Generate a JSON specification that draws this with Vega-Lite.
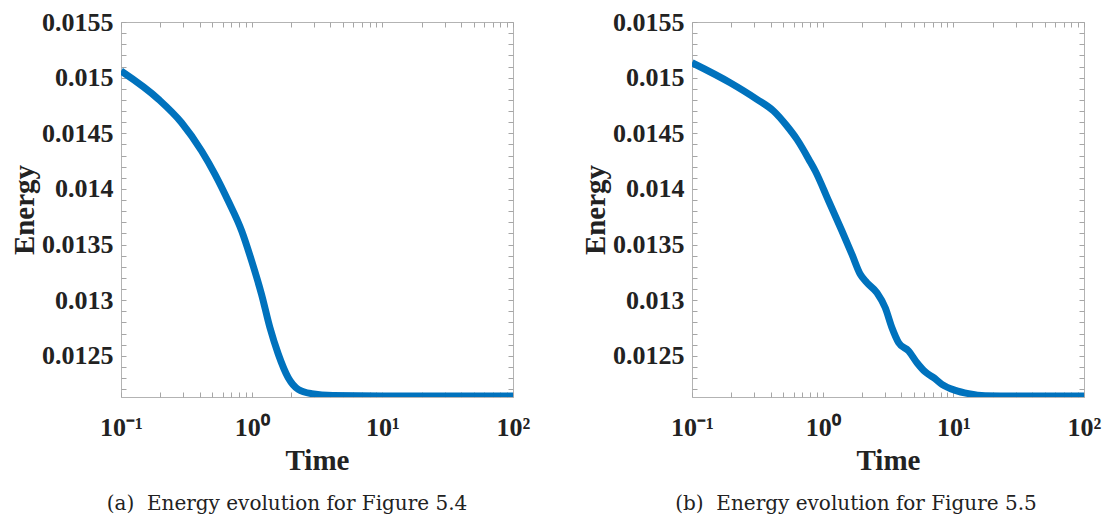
{
  "$schema": "https://vega.github.io/schema/vega-lite/v6.json",
  "background": "white",
  "padding": {"left": 10, "top": 8, "right": 5, "bottom": 5},
  "spacing": 50,
  "datasets": {
    "energy": [
      {"panel": "a", "t": 0.1, "E": 0.01506},
      {"panel": "a", "t": 0.194, "E": 0.014805},
      {"panel": "a", "t": 0.291, "E": 0.014595},
      {"panel": "a", "t": 0.414, "E": 0.014341},
      {"panel": "a", "t": 0.524, "E": 0.014131},
      {"panel": "a", "t": 0.662, "E": 0.013891},
      {"panel": "a", "t": 0.839, "E": 0.013622},
      {"panel": "a", "t": 1.0, "E": 0.013352},
      {"panel": "a", "t": 1.19, "E": 0.013053},
      {"panel": "a", "t": 1.38, "E": 0.012753},
      {"panel": "a", "t": 1.6, "E": 0.012514},
      {"panel": "a", "t": 1.905, "E": 0.012303},
      {"panel": "a", "t": 2.27, "E": 0.012199},
      {"panel": "a", "t": 2.88, "E": 0.01216},
      {"panel": "a", "t": 4.19, "E": 0.012143},
      {"panel": "a", "t": 10, "E": 0.012139},
      {"panel": "a", "t": 100, "E": 0.012139},
      {"panel": "b", "t": 0.1, "E": 0.015134},
      {"panel": "b", "t": 0.196, "E": 0.014954},
      {"panel": "b", "t": 0.314, "E": 0.014805},
      {"panel": "b", "t": 0.421, "E": 0.0147},
      {"panel": "b", "t": 0.533, "E": 0.014565},
      {"panel": "b", "t": 0.636, "E": 0.014445},
      {"panel": "b", "t": 0.804, "E": 0.014242},
      {"panel": "b", "t": 0.878, "E": 0.014161},
      {"panel": "b", "t": 1.111, "E": 0.013891},
      {"panel": "b", "t": 1.405, "E": 0.013622},
      {"panel": "b", "t": 1.676, "E": 0.013412},
      {"panel": "b", "t": 1.94, "E": 0.013233},
      {"panel": "b", "t": 2.183, "E": 0.013157},
      {"panel": "b", "t": 2.603, "E": 0.013067},
      {"panel": "b", "t": 3.013, "E": 0.012932},
      {"panel": "b", "t": 3.39, "E": 0.012753},
      {"panel": "b", "t": 3.815, "E": 0.012618},
      {"panel": "b", "t": 4.55, "E": 0.012543},
      {"panel": "b", "t": 5.27, "E": 0.012438},
      {"panel": "b", "t": 6.1, "E": 0.012355},
      {"panel": "b", "t": 7.07, "E": 0.012304},
      {"panel": "b", "t": 8.18, "E": 0.012244},
      {"panel": "b", "t": 10.34, "E": 0.01219},
      {"panel": "b", "t": 13.1, "E": 0.01216},
      {"panel": "b", "t": 17.5, "E": 0.012142},
      {"panel": "b", "t": 30, "E": 0.012139},
      {"panel": "b", "t": 100, "E": 0.012139}
    ]
  },
  "data": {"name": "energy"},
  "hconcat": [
    {
      "width": 392,
      "height": 375,
      "transform": [{"filter": "datum.panel === 'a'"}],
      "title": {"text": "(a)\u00a0 Energy evolution for Figure 5.4", "orient": "bottom", "anchor": "middle", "font": "DejaVu Serif", "fontSize": 20, "fontWeight": "normal", "color": "#222222", "offset": 19, "dx": -30},
      "layer": [
        {
          "mark": {"type": "line", "color": "#0072BD", "strokeWidth": 7, "interpolate": "monotone", "clip": true},
          "encoding": {
            "x": {"field": "t", "type": "quantitative", "scale": {"type": "log", "domain": [0.1, 100], "nice": false}, "axis": {"orient": "bottom", "title": "Time", "values": [0.1,0.2,0.3,0.4,0.5,0.6,0.7,0.8,0.9,1,2,3,4,5,6,7,8,9,10,20,30,40,50,60,70,80,90,100], "labelExpr": "datum.value == 0.1 ? '10\u207b\u00b9' : datum.value == 1 ? '10\u2070' : datum.value == 10 ? '10\u00b9' : datum.value == 100 ? '10\u00b2' : ''"}},
            "y": {"field": "E", "type": "quantitative", "scale": {"domain": [0.01213, 0.0155], "nice": false, "zero": false}, "axis": {"orient": "left", "title": "Energy", "values": [0.0122,0.0123,0.0124,0.0125,0.0126,0.0127,0.0128,0.0129,0.013,0.0131,0.0132,0.0133,0.0134,0.0135,0.0136,0.0137,0.0138,0.0139,0.014,0.0141,0.0142,0.0143,0.0144,0.0145,0.0146,0.0147,0.0148,0.0149,0.015,0.0151,0.0152,0.0153,0.0154,0.0155], "labelExpr": "round(datum.value*10000) % 5 === 0 ? format(datum.value, '~g') : ''"}}
          }
        },
        {
          "mark": {"type": "line", "opacity": 0},
          "encoding": {
            "x": {"field": "t", "type": "quantitative", "scale": {"type": "log", "domain": [0.1, 100], "nice": false}, "axis": {"orient": "top", "title": null, "labels": false, "values": [0.1,0.2,0.3,0.4,0.5,0.6,0.7,0.8,0.9,1,2,3,4,5,6,7,8,9,10,20,30,40,50,60,70,80,90,100]}},
            "y": {"field": "E", "type": "quantitative", "scale": {"domain": [0.01213, 0.0155], "nice": false, "zero": false}, "axis": {"orient": "right", "title": null, "labels": false, "values": [0.0122,0.0123,0.0124,0.0125,0.0126,0.0127,0.0128,0.0129,0.013,0.0131,0.0132,0.0133,0.0134,0.0135,0.0136,0.0137,0.0138,0.0139,0.014,0.0141,0.0142,0.0143,0.0144,0.0145,0.0146,0.0147,0.0148,0.0149,0.015,0.0151,0.0152,0.0153,0.0154,0.0155]}}
          }
        }
      ],
      "resolve": {"axis": {"x": "independent", "y": "independent"}}
    },
    {
      "width": 392,
      "height": 375,
      "transform": [{"filter": "datum.panel === 'b'"}],
      "title": {"text": "(b)\u00a0 Energy evolution for Figure 5.5", "orient": "bottom", "anchor": "middle", "font": "DejaVu Serif", "fontSize": 20, "fontWeight": "normal", "color": "#222222", "offset": 19, "dx": -32},
      "layer": [
        {
          "mark": {"type": "line", "color": "#0072BD", "strokeWidth": 7, "interpolate": "monotone", "clip": true},
          "encoding": {
            "x": {"field": "t", "type": "quantitative", "scale": {"type": "log", "domain": [0.1, 100], "nice": false}, "axis": {"orient": "bottom", "title": "Time", "values": [0.1,0.2,0.3,0.4,0.5,0.6,0.7,0.8,0.9,1,2,3,4,5,6,7,8,9,10,20,30,40,50,60,70,80,90,100], "labelExpr": "datum.value == 0.1 ? '10\u207b\u00b9' : datum.value == 1 ? '10\u2070' : datum.value == 10 ? '10\u00b9' : datum.value == 100 ? '10\u00b2' : ''"}},
            "y": {"field": "E", "type": "quantitative", "scale": {"domain": [0.01213, 0.0155], "nice": false, "zero": false}, "axis": {"orient": "left", "title": "Energy", "values": [0.0122,0.0123,0.0124,0.0125,0.0126,0.0127,0.0128,0.0129,0.013,0.0131,0.0132,0.0133,0.0134,0.0135,0.0136,0.0137,0.0138,0.0139,0.014,0.0141,0.0142,0.0143,0.0144,0.0145,0.0146,0.0147,0.0148,0.0149,0.015,0.0151,0.0152,0.0153,0.0154,0.0155], "labelExpr": "round(datum.value*10000) % 5 === 0 ? format(datum.value, '~g') : ''"}}
          }
        },
        {
          "mark": {"type": "line", "opacity": 0},
          "encoding": {
            "x": {"field": "t", "type": "quantitative", "scale": {"type": "log", "domain": [0.1, 100], "nice": false}, "axis": {"orient": "top", "title": null, "labels": false, "values": [0.1,0.2,0.3,0.4,0.5,0.6,0.7,0.8,0.9,1,2,3,4,5,6,7,8,9,10,20,30,40,50,60,70,80,90,100]}},
            "y": {"field": "E", "type": "quantitative", "scale": {"domain": [0.01213, 0.0155], "nice": false, "zero": false}, "axis": {"orient": "right", "title": null, "labels": false, "values": [0.0122,0.0123,0.0124,0.0125,0.0126,0.0127,0.0128,0.0129,0.013,0.0131,0.0132,0.0133,0.0134,0.0135,0.0136,0.0137,0.0138,0.0139,0.014,0.0141,0.0142,0.0143,0.0144,0.0145,0.0146,0.0147,0.0148,0.0149,0.015,0.0151,0.0152,0.0153,0.0154,0.0155]}}
          }
        }
      ],
      "resolve": {"axis": {"x": "independent", "y": "independent"}}
    }
  ],
  "config": {
    "view": {"stroke": "#b3b3b3", "strokeWidth": 1},
    "axis": {
      "grid": false,
      "domain": false,
      "tickColor": "#a6a6a6",
      "tickWidth": 1,
      "tickSize": -5,
      "labelFont": "Liberation Serif",
      "labelFontWeight": "bold",
      "labelFontSize": 26,
      "labelColor": "#222222",
      "labelPadding": 13,
      "labelFlush": false,
      "labelOverlap": false,
      "titleFont": "Liberation Serif",
      "titleFontWeight": "bold",
      "titleFontSize": 29,
      "titleColor": "#222222"
    },
    "axisLeft": {"titlePadding": 2},
    "axisBottom": {"titlePadding": 6, "labelPadding": 22}
  }
}
